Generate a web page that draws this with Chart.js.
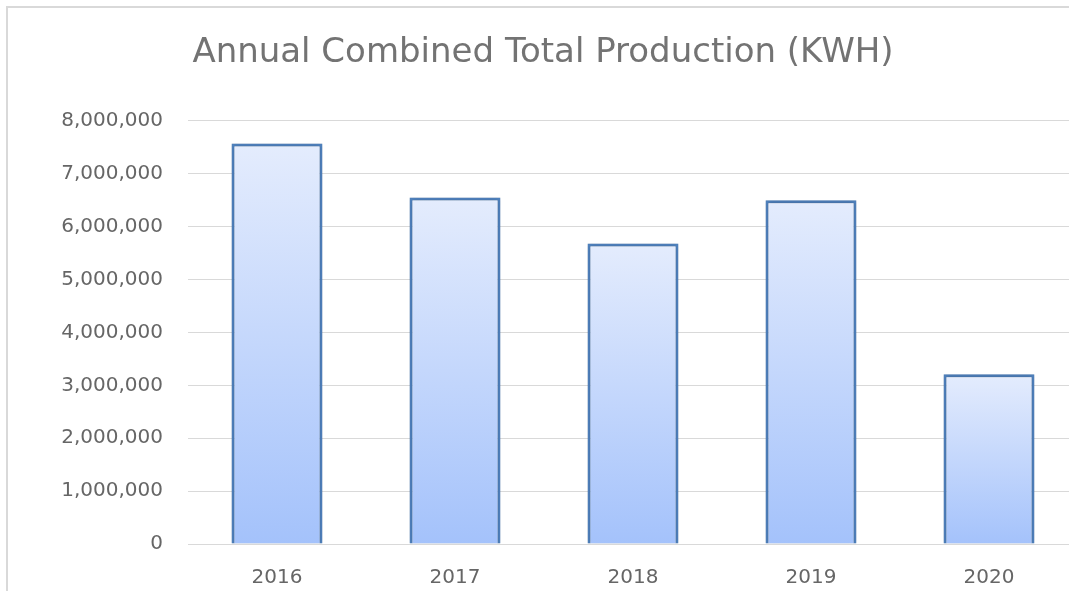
<!DOCTYPE html>
<html>
<head>
<meta charset="utf-8">
<title>Annual Combined Total Production (KWH)</title>
<script src="https://cdn.jsdelivr.net/npm/chart.js@4/dist/chart.umd.min.js"></script>
<style>
  html, body { margin: 0; padding: 0; background: #fff; overflow: hidden; width: 1069px; height: 591px; }
  .frame {
    position: absolute; left: 6px; top: 6px;
    width: 1072px; height: 585px;
    border-top: 2px solid #d9d9d9;
    border-left: 2px solid #d9d9d9;
  }
  .frame canvas { display: block; }
</style>
</head>
<body>
<div class="frame"><canvas id="prodChart" width="1070" height="583"></canvas></div>
<script>
/* ─── Data ─── */
const years = ['2016', '2017', '2018', '2019', '2020'];
const production = [7570000, 6550000, 5680000, 6500000, 3210000];
const yTicks = [0, 1000000, 2000000, 3000000, 4000000, 5000000, 6000000, 7000000, 8000000];

/* ─── Per-bar gradient (light at top, deeper blue at base) ─── */
function barGradient(c) {
  const chart = c.chart;
  const y = chart.scales.y;
  if (!y || c.dataIndex === undefined) return '#c5d8fc';
  const top = y.getPixelForValue(production[c.dataIndex]);
  const base = y.getPixelForValue(0);
  if (!isFinite(top) || !isFinite(base) || top === base) return '#c5d8fc';
  const g = chart.ctx.createLinearGradient(0, top, 0, base);
  g.addColorStop(0, '#e4ecfd');
  g.addColorStop(1, '#a4c2fb');
  return g;
}

/* ─── Soft shadow round the bars ─── */
const barShadow = {
  id: 'barShadow',
  beforeDatasetsDraw(chart) {
    const ctx = chart.ctx;
    ctx.save();
    ctx.shadowColor = 'rgba(0,0,0,0.25)';
    ctx.shadowBlur = 4;
    ctx.shadowOffsetX = 0;
    ctx.shadowOffsetY = 0;
  },
  afterDatasetsDraw(chart) {
    chart.ctx.restore();
  }
};

const font = 'DejaVu Sans';

const chart = new Chart(document.getElementById('prodChart'), {
  type: 'bar',
  data: {
    labels: years,
    datasets: [{
      data: production,
      backgroundColor: barGradient,
      borderColor: '#4f81bd',
      borderWidth: 3,
      categoryPercentage: 1,
      barPercentage: 0.511
    }]
  },
  options: {
    responsive: false,
    animation: false,
    layout: { padding: 0 },
    plugins: {
      legend: { display: false },
      tooltip: { enabled: false },
      title: {
        display: true,
        text: 'Annual Combined Total Production (KWH)',
        color: '#737373',
        font: { family: font, size: 34, weight: 'normal' },
        padding: { top: 25, bottom: 47 }
      }
    },
    scales: {
      y: {
        min: 0,
        max: 8000000,
        afterBuildTicks: s => { s.ticks = yTicks.map(v => ({ value: v })); },
        afterFit: s => { s.width = 180; },
        border: { display: false },
        grid: { color: '#d9d9d9', lineWidth: 1, drawTicks: false },
        ticks: {
          color: '#666',
          padding: 25,
          font: { family: font, size: 20 },
          callback: v => v.toLocaleString('en-US')
        }
      },
      x: {
        afterFit: s => { s.height = 47; },
        border: { display: false },
        grid: { display: false, drawTicks: false },
        ticks: {
          color: '#666',
          padding: 22,
          font: { family: font, size: 20 }
        }
      }
    }
  },
  plugins: [barShadow]
});
// redraw once scales are settled so the gradients follow each bar
chart.update('none');
</script>
</body>
</html>
